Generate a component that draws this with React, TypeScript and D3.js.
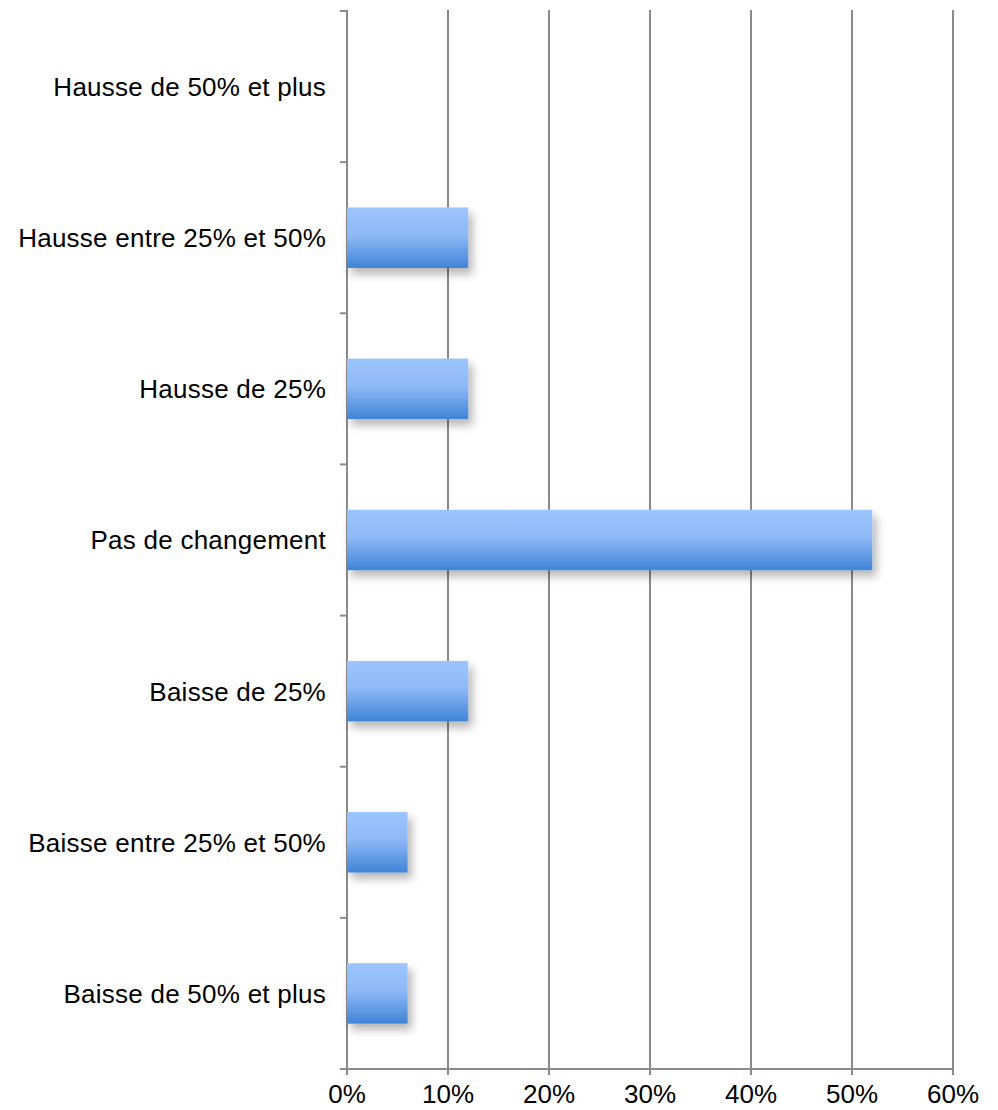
import React from "react";
import * as d3 from "d3";

// Share of responses per category of change (percent)
const categories = [
  "Hausse de 50% et plus",
  "Hausse entre 25% et 50%",
  "Hausse de 25%",
  "Pas de changement",
  "Baisse de 25%",
  "Baisse entre 25% et 50%",
  "Baisse de 50% et plus",
];
const values = [0, 12, 12, 52, 12, 6, 6];
const xTicks = [0, 10, 20, 30, 40, 50, 60];

const W = 998;
const H = 1110;
const left = 347;
const right = 953;
const top = 11;
const bottom = 1069;

export default function App() {
  const x = d3.scaleLinear().domain([0, 60]).range([left, right]);
  const y = d3
    .scaleBand<string>()
    .domain(categories)
    .range([top, bottom])
    .paddingInner(0.6)
    .paddingOuter(0.3);
  const step = (bottom - top) / categories.length;
  const boundaries = d3.range(categories.length + 1).map((i) => top + i * step);
  const font = "'Liberation Sans', Arial, Helvetica, sans-serif";

  return (
    <svg
      width={W}
      height={H}
      style={{ position: "absolute", left: 0, top: 0, background: "#fff" }}
    >
      <defs>
        <linearGradient id="barFill" x1="0" y1="0" x2="0" y2="1">
          <stop offset="0%" stopColor="#9cc5ff" />
          <stop offset="45%" stopColor="#8fb9f7" />
          <stop offset="100%" stopColor="#3f84d6" />
        </linearGradient>
        <filter id="barShadow" x="-20%" y="-30%" width="150%" height="180%">
          <feGaussianBlur in="SourceAlpha" stdDeviation="5" />
          <feOffset dx="4" dy="6" result="off" />
          <feComponentTransfer>
            <feFuncA type="linear" slope="0.3" />
          </feComponentTransfer>
          <feMerge>
            <feMergeNode />
            <feMergeNode in="SourceGraphic" />
          </feMerge>
        </filter>
      </defs>

      {/* vertical gridlines */}
      {xTicks.map((t) => (
        <line
          key={"g" + t}
          x1={x(t)}
          x2={x(t)}
          y1={top - 1}
          y2={bottom + 6}
          stroke="#8a8a8a"
          strokeWidth={2}
        />
      ))}

      {/* category axis ticks */}
      {boundaries.map((b, i) => (
        <line
          key={"yt" + i}
          x1={left - 7}
          x2={left}
          y1={b}
          y2={b}
          stroke="#8a8a8a"
          strokeWidth={2}
        />
      ))}

      {/* bottom axis line */}
      <line x1={left - 7} x2={right} y1={bottom} y2={bottom} stroke="#8a8a8a" strokeWidth={2} />

      {/* bars */}
      {categories.map((c, i) =>
        values[i] > 0 ? (
          <rect
            key={c}
            x={x(0)}
            y={y(c)}
            width={x(values[i]) - x(0)}
            height={y.bandwidth()}
            fill="url(#barFill)"
            filter="url(#barShadow)"
          />
        ) : null
      )}

      {/* category labels */}
      {categories.map((c) => (
        <text
          key={"l" + c}
          x={326}
          y={(y(c) ?? 0) + y.bandwidth() / 2}
          dy="0.36em"
          textAnchor="end"
          fontFamily={font}
          fontSize={26}
          letterSpacing={0.25}
          fill="#000"
        >
          {c}
        </text>
      ))}

      {/* x tick labels */}
      {xTicks.map((t) => (
        <text
          key={"xl" + t}
          x={x(t)}
          y={1103}
          textAnchor="middle"
          fontFamily={font}
          fontSize={26}
          fill="#000"
        >
          {t + "%"}
        </text>
      ))}
    </svg>
  );
}
